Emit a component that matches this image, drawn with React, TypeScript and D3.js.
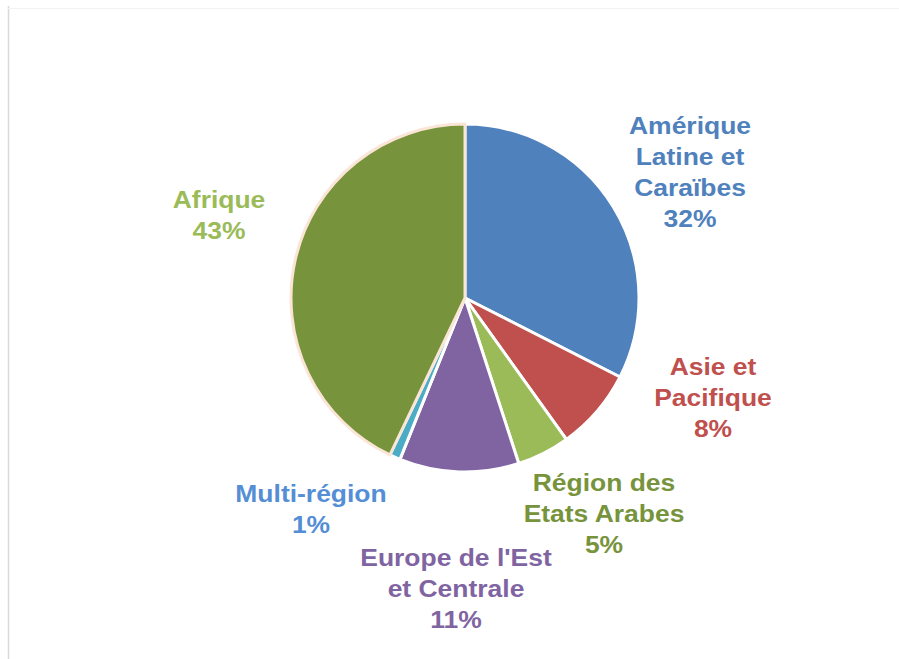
import React from 'react';
import * as d3 from 'd3';

const regions = ['Amérique Latine et Caraïbes', 'Asie et Pacifique', 'Région des Etats Arabes', "Europe de l'Est et Centrale", 'Multi-région', 'Afrique'];
const shares = [32.5, 7.6, 4.9, 11.1, 1.0, 42.9];
const percentLabels = ['32%', '8%', '5%', '11%', '1%', '43%'];
const labelLines = [
  ['Amérique', 'Latine et', 'Caraïbes'],
  ['Asie et', 'Pacifique'],
  ['Région des', 'Etats Arabes'],
  ["Europe de l'Est", 'et Centrale'],
  ['Multi-région'],
  ['Afrique'],
];
const sliceColors = ['#4f81bd', '#c0504d', '#9bbb59', '#8064a2', '#4bacc6', '#77933c'];
const labelColors = ['#4f81bd', '#c0504d', '#77933c', '#8064a2', '#558ed5', '#9bbb59'];
const strokeColors = ['#ffffff', '#ffffff', '#ffffff', '#ffffff', '#ffffff', '#fbe5d6'];

// label anchor (center x, first line center y)
const labelAnchors: [number, number][] = [
  [690, 125],
  [713, 366],
  [604, 482],
  [456, 557],
  [311, 493],
  [219, 199],
];

const W = 899;
const H = 659;
const cx = 465;
const cy = 298;
const radius = 174;
const lineH = 31;

export default function App() {
  const data = regions.map((r, i) => ({ region: r, value: shares[i], i }));
  const pie = d3.pie<any>().sort(null).value(d => d.value);
  const arcs = pie(data);
  const arc = d3.arc<any>().innerRadius(0).outerRadius(radius);

  return (
    <svg width={W} height={H} style={{ position: 'absolute', left: 0, top: 0, background: '#fff' }}>
      <line x1={8.5} y1={6} x2={8.5} y2={H} stroke="#d9d9d9" strokeWidth={1.5} />
      <line x1={8} y1={8.5} x2={W} y2={8.5} stroke="#f2f2f2" strokeWidth={1} />
      <g transform={`translate(${cx},${cy})`}>
        {arcs.map(a => (
          <path
            key={a.data.region}
            d={arc(a) as string}
            fill={sliceColors[a.data.i]}
            stroke={strokeColors[a.data.i]}
            strokeWidth={3}
            strokeLinejoin="round"
          />
        ))}
      </g>
      {arcs.map(a => {
        const i = a.data.i;
        const [x, y0] = labelAnchors[i];
        const lines = [...labelLines[i], percentLabels[i]];
        return (
          <text
            key={'l' + i}
            transform={`translate(${x},0) scale(1.08,1)`}
            textAnchor="middle"
            fill={labelColors[i]}
            fontFamily="'Liberation Sans', Arial, sans-serif"
            fontWeight="bold"
            fontSize={24.5}
          >
            {lines.map((t, k) => (
              <tspan key={k} x={0} y={y0 + k * lineH} dy="0.36em">{t}</tspan>
            ))}
          </text>
        );
      })}
    </svg>
  );
}
